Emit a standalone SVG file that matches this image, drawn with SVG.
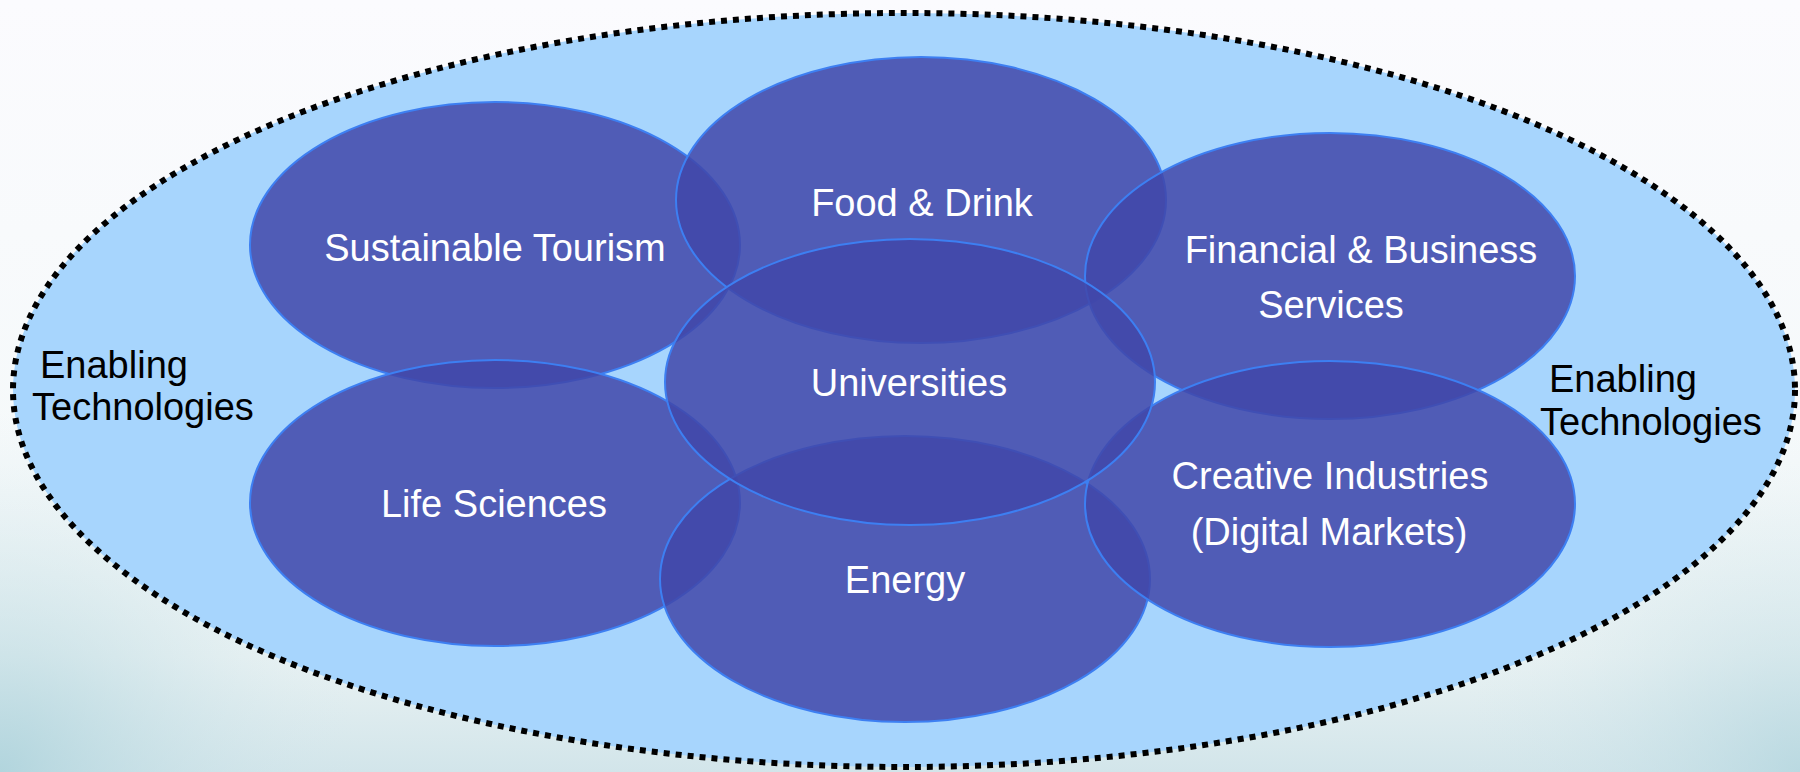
<svg xmlns="http://www.w3.org/2000/svg" width="1800" height="772" viewBox="0 0 1800 772">
<defs>
<linearGradient id="bg" x1="0" y1="0" x2="0" y2="1">
<stop offset="0" stop-color="#fbfbfe"/>
<stop offset="0.6" stop-color="#f5f9fa"/>
<stop offset="0.85" stop-color="#e9f2f3"/>
<stop offset="1" stop-color="#d2e5ea"/>
</linearGradient>
<radialGradient id="bl" cx="0" cy="772" r="360" gradientUnits="userSpaceOnUse">
<stop offset="0" stop-color="#acd2db" stop-opacity="0.85"/>
<stop offset="1" stop-color="#d8e9ee" stop-opacity="0"/>
</radialGradient>
<radialGradient id="br" cx="1800" cy="772" r="340" gradientUnits="userSpaceOnUse">
<stop offset="0" stop-color="#b2d5de" stop-opacity="0.75"/>
<stop offset="1" stop-color="#d8e9ee" stop-opacity="0"/>
</radialGradient>
</defs>
<style>
.node ellipse{fill:#4147a9;fill-opacity:0.85;stroke:#3d7ff2;stroke-width:2}
.lbl{font-family:"Liberation Sans",Arial,sans-serif;font-size:38px;fill:#ffffff;text-anchor:middle}
.side{font-family:"Liberation Sans",Arial,sans-serif;font-size:38px;fill:#000000}
</style>
<rect width="1800" height="772" fill="url(#bg)"/>
<rect width="1800" height="772" fill="url(#bl)"/>
<rect width="1800" height="772" fill="url(#br)"/>
<g id="outer">
<ellipse cx="904" cy="390" rx="891" ry="377" fill="#a7d5fd" stroke="#000" stroke-width="6" stroke-dasharray="6 6"/>
<text class="side" x="40" y="378">Enabling</text>
<text class="side" x="32" y="420">Technologies</text>
<text class="side" x="1549" y="392">Enabling</text>
<text class="side" x="1540" y="435">Technologies</text>
</g>
<g id="sustainable-tourism" class="node">
<ellipse cx="495" cy="245" rx="245" ry="143"/>
<text class="lbl" x="495" y="261">Sustainable Tourism</text>
</g>
<g id="food-drink" class="node">
<ellipse cx="921" cy="200" rx="245" ry="143"/>
<text class="lbl" x="922" y="216">Food &amp; Drink</text>
</g>
<g id="financial-business" class="node">
<ellipse cx="1330" cy="276" rx="245" ry="143"/>
<text class="lbl" x="1361" y="263">Financial &amp; Business</text>
<text class="lbl" x="1331" y="318">Services</text>
</g>
<g id="life-sciences" class="node">
<ellipse cx="495" cy="503" rx="245" ry="143"/>
<text class="lbl" x="494" y="517">Life Sciences</text>
</g>
<g id="energy" class="node">
<ellipse cx="905" cy="579" rx="245" ry="143"/>
<text class="lbl" x="905" y="593">Energy</text>
</g>
<g id="creative-industries" class="node">
<ellipse cx="1330" cy="504" rx="245" ry="143"/>
<text class="lbl" x="1330" y="489">Creative Industries</text>
<text class="lbl" x="1329" y="545">(Digital Markets)</text>
</g>
<g id="universities" class="node">
<ellipse cx="910" cy="382" rx="245" ry="143"/>
<text class="lbl" x="909" y="396">Universities</text>
</g>
<g id="connectors"/>
</svg>
